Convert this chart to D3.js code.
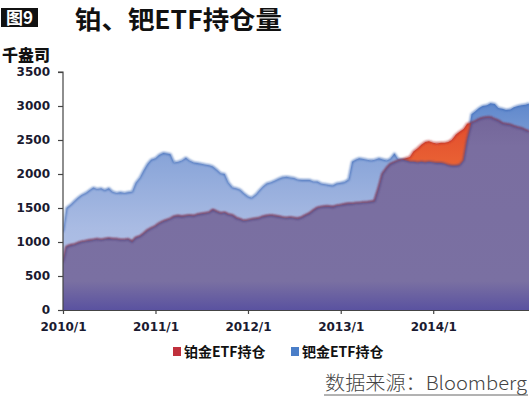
<!DOCTYPE html>
<html><head><meta charset="utf-8">
<script src="https://cdn.jsdelivr.net/npm/d3@7"></script>
<style>body{margin:0;background:#fff}svg{display:block}</style>
</head><body>
<svg id="c" width="529" height="397"></svg>
<script>
const dates = [
"2010-01-01","2010-01-15","2010-02-01","2010-02-15","2010-03-01","2010-03-15","2010-04-01","2010-04-15","2010-05-01","2010-05-15","2010-06-01","2010-06-15",
"2010-07-01","2010-07-15","2010-08-01","2010-08-15","2010-09-01","2010-09-15","2010-10-01","2010-10-15","2010-11-01","2010-11-15","2010-12-01","2010-12-15",
"2011-01-01","2011-01-15","2011-02-01","2011-02-15","2011-03-01","2011-03-15","2011-04-01","2011-04-15","2011-05-01","2011-05-15","2011-06-01","2011-06-15",
"2011-07-01","2011-07-15","2011-08-01","2011-08-15","2011-09-01","2011-09-15","2011-10-01","2011-10-15","2011-11-01","2011-11-15","2011-12-01","2011-12-15",
"2012-01-01","2012-01-15","2012-02-01","2012-02-15","2012-03-01","2012-03-15","2012-04-01","2012-04-15","2012-05-01","2012-05-15","2012-06-01","2012-06-15",
"2012-07-01","2012-07-15","2012-08-01","2012-08-15","2012-09-01","2012-09-15","2012-10-01","2012-10-15","2012-11-01","2012-11-15","2012-12-01","2012-12-15",
"2013-01-01","2013-01-15","2013-02-01","2013-02-15","2013-03-01","2013-03-15","2013-04-01","2013-04-15","2013-05-01","2013-05-15","2013-06-01","2013-06-15",
"2013-07-01","2013-07-15","2013-08-01","2013-08-15","2013-09-01","2013-09-15","2013-10-01","2013-10-15","2013-11-01","2013-11-15","2013-12-01","2013-12-15",
"2014-01-01","2014-01-15","2014-02-01","2014-02-15","2014-03-01","2014-03-15","2014-04-01","2014-04-15","2014-05-01","2014-05-15","2014-06-01","2014-06-15",
"2014-07-01","2014-07-15","2014-08-01","2014-08-15","2014-09-01","2014-09-15","2014-10-01","2014-10-15","2014-11-01","2014-11-15","2014-12-01","2014-12-15",
"2015-01-01","2015-01-15"];

// 铂金ETF持仓 (platinum), thousand oz
const platinum = [
700,930,950,960,980,1000,1010,1020,1030,1040,1030,1040,
1050,1040,1040,1030,1030,1040,1000,1060,1080,1120,1170,1200,
1230,1270,1300,1320,1340,1370,1380,1370,1380,1390,1380,1400,
1410,1420,1430,1470,1440,1420,1430,1400,1390,1350,1330,1310,
1320,1330,1340,1350,1370,1380,1390,1380,1370,1360,1350,1360,
1350,1340,1360,1390,1420,1460,1500,1510,1520,1520,1510,1530,
1540,1550,1560,1560,1570,1570,1580,1580,1590,1600,1800,2000,
2080,2140,2170,2190,2210,2230,2250,2330,2380,2430,2470,2480,
2460,2450,2460,2460,2470,2500,2580,2620,2660,2740,2750,2770,
2800,2820,2830,2830,2800,2780,2740,2730,2720,2700,2680,2670,
2640,2620];

// 钯金ETF持仓 (palladium), thousand oz
const palladium = [
1150,1500,1550,1600,1650,1690,1720,1760,1800,1780,1790,1760,
1790,1740,1720,1730,1720,1730,1740,1870,1950,2050,2150,2210,
2230,2280,2310,2300,2290,2170,2180,2200,2240,2200,2170,2160,
2150,2140,2130,2110,2060,2010,2000,1880,1800,1790,1770,1720,
1670,1650,1700,1760,1820,1860,1880,1900,1930,1950,1960,1950,
1940,1920,1910,1910,1910,1890,1890,1860,1850,1840,1830,1860,
1870,1880,1920,2180,2210,2230,2220,2210,2200,2210,2230,2215,
2200,2220,2300,2220,2210,2200,2180,2180,2170,2180,2170,2180,
2170,2160,2160,2150,2130,2120,2120,2130,2200,2500,2880,2920,
2970,3000,3010,3040,3030,2970,2960,2940,2950,2980,3000,3010,
3020,3040];

const yTicks = [0,500,1000,1500,2000,2500,3000,3500];
const xTickDates = ["2010-01-01","2011-01-01","2012-01-01","2013-01-01","2014-01-01"];
const xTickLabels = ["2010/1","2011/1","2012/1","2013/1","2014/1"];
const seriesNames = ["铂金ETF持仓","钯金ETF持仓"];
const seriesColors = ["#c0303c","#4a7ec8"];

const parse = d3.timeParse("%Y-%m-%d");
const data = dates.map((d,i)=>({date:parse(d), pt:platinum[i], pd:palladium[i]}));

const svg = d3.select("#c");
const L=63, R=529, T=72, B=310;
const x = d3.scaleTime().domain([parse("2010-01-01"), parse("2015-01-14")]).range([L,R]);
const y = d3.scaleLinear().domain([0,3500]).range([B,T]);

const defs = svg.append("defs");
defs.append("clipPath").attr("id","clip").append("rect").attr("x",L).attr("y",T-10).attr("width",R-L).attr("height",B-T+10);
function grad(id, stops){
  const g = defs.append("linearGradient").attr("id",id).attr("x1",0).attr("y1",0).attr("x2",0).attr("y2",1);
  stops.forEach(s=>g.append("stop").attr("offset",s[0]).attr("stop-color",s[1]));
}
grad("gBlue",[[0,"#5f88cc"],[0.25,"#88a4d8"],[0.6,"#a9bbe3"],[1,"#b8c6ea"]]);
grad("gOrange",[[0,"#e24a2c"],[0.5,"#f07a3c"],[1,"#f6a060"]]);
grad("gPurple",[[0,"#74669a"],[0.15,"#7a6ea0"],[0.85,"#7a70a2"],[1,"#5a52a0"]]);
defs.append("filter").attr("id","blur").append("feGaussianBlur").attr("stdDeviation",1.2);

const g = svg.append("g").attr("clip-path","url(#clip)");
const areaPd = d3.area().x(d=>x(d.date)).y0(B).y1(d=>y(d.pd));
const areaPt = d3.area().x(d=>x(d.date)).y0(B).y1(d=>y(d.pt));
const areaMin = d3.area().x(d=>x(d.date)).y0(B).y1(d=>y(Math.min(d.pt,d.pd)));
const lineMin = d3.line().x(d=>x(d.date)).y(d=>y(Math.min(d.pt,d.pd)));
const linePd = d3.line().x(d=>x(d.date)).y(d=>y(d.pd));
const linePt = d3.line().x(d=>x(d.date)).y(d=>y(d.pt));

g.append("path").datum(data).attr("d",areaPd).attr("fill","url(#gBlue)");
g.append("path").datum(data).attr("d",linePd).attr("fill","none").attr("stroke","#3e6ab8").attr("stroke-width",1.6).attr("filter","url(#blur)");
g.append("path").datum(data).attr("d",areaPt).attr("fill","url(#gOrange)");
g.append("path").datum(data).attr("d",linePt).attr("fill","none").attr("stroke","#b82a28").attr("stroke-width",1.6).attr("filter","url(#blur)");
g.append("path").datum(data).attr("d",areaMin).attr("fill","url(#gPurple)");
g.append("path").datum(data).attr("d",lineMin).attr("fill","none").attr("stroke","#55457e").attr("stroke-width",1.6).attr("filter","url(#blur)");

// axes
const axisColor = "#444";
const yAxis = svg.append("g").attr("transform",`translate(${L},0)`)
  .call(d3.axisLeft(y).tickValues(yTicks).tickSize(5).tickPadding(8).tickFormat(d3.format("d")));
const xAxis = svg.append("g").attr("transform",`translate(0,${B})`)
  .call(d3.axisBottom(x).tickValues(xTickDates.map(parse)).tickSize(4).tickSizeOuter(0).tickPadding(8)
    .tickFormat((d,i)=>xTickLabels[i]));
[yAxis,xAxis].forEach(a=>{
  a.select(".domain").attr("stroke",axisColor).attr("stroke-width",1.2);
  a.selectAll(".tick line").attr("stroke",axisColor).attr("stroke-width",1.2);
  a.selectAll("text").attr("font-family","DejaVu Sans, sans-serif").attr("font-weight","bold")
    .attr("font-size",12).attr("fill","#1a1a30");
});
yAxis.select(".domain").attr("d",`M-5,${T}H0V${B}`);

// titles
svg.append("rect").attr("x",1).attr("y",8).attr("width",37).attr("height",19).attr("fill","#111");
svg.append("text").attr("x",19.5).attr("y",24).attr("text-anchor","middle").attr("fill","#fff")
  .attr("font-family","Noto Sans CJK SC, sans-serif").attr("font-weight","bold").attr("font-size",17).text("图9");
svg.append("text").attr("x",75).attr("y",29).attr("fill","#111")
  .attr("font-family","Noto Sans CJK SC, sans-serif").attr("font-weight","bold").attr("font-size",25)
  .attr("textLength",207).attr("lengthAdjust","spacingAndGlyphs").text("铂、钯ETF持仓量");
svg.append("text").attr("x",2).attr("y",61).attr("fill","#111")
  .attr("font-family","Noto Sans CJK SC, sans-serif").attr("font-weight","900").attr("font-size",16).text("千盎司");

// legend
const lx = [173, 291];
seriesNames.forEach((n,i)=>{
  svg.append("rect").attr("x",lx[i]).attr("y",347).attr("width",8).attr("height",9).attr("fill",seriesColors[i]);
  svg.append("text").attr("x",lx[i]+11).attr("y",357).attr("fill","#111")
    .attr("font-family","Noto Sans CJK SC, sans-serif").attr("font-weight","bold").attr("font-size",14).text(n);
});

// source
svg.append("text").attr("x",325).attr("y",390).attr("fill","#444")
  .attr("font-family","Noto Sans CJK SC, sans-serif").attr("font-weight","300").attr("font-size",19)
  .attr("textLength",202).attr("lengthAdjust","spacingAndGlyphs").text("数据来源：Bloomberg");
svg.append("line").attr("x1",324).attr("x2",528).attr("y1",395).attr("y2",395).attr("stroke","#666").attr("stroke-width",1);
</script>
</body></html>
